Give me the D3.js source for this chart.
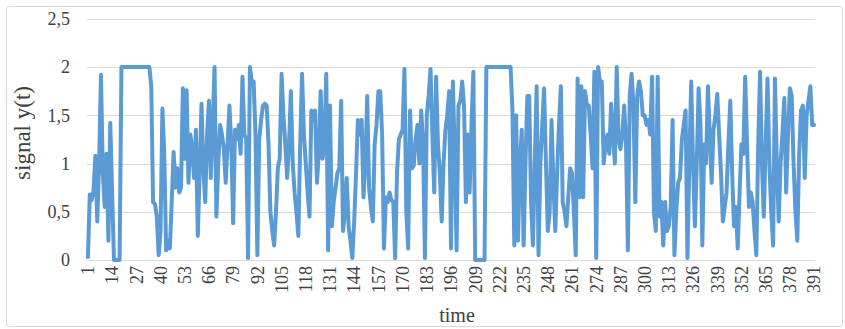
<!DOCTYPE html>
<html>
<head>
<meta charset="utf-8">
<script src="https://cdn.jsdelivr.net/npm/d3@7"></script>
<style>
  html, body { margin: 0; padding: 0; background: #fff; }
  svg { display: block; }
</style>
</head>
<body>
<div id="chart"></div>
<script>
// signal values, one per time step
const SIGNAL = [
  0.03, 0.68, 0.62, 0.72, 1.08, 0.4, 1.0, 1.92, 0.9, 0.55,
  1.1, 0.2, 1.42, 0.7, 0, 0, 0, 0, 2, 2,
  2, 2, 2, 2, 2, 2, 2, 2, 2, 2,
  2, 2, 2, 2, 1.8, 0.6, 0.58, 0.45, 0.05, 0.3,
  1.57, 1.1, 0.1, 0.2, 0.12, 0.6, 1.12, 0.75, 0.95, 0.7,
  0.75, 1.78, 1.05, 1.76, 0.8, 1.3, 1.15, 0.85, 1.35, 0.25,
  0.9, 1.62, 0.95, 0.6, 1.3, 1.65, 0.85, 1.4, 2.0, 0.45,
  1.0, 1.4, 1.3, 1.15, 0.8, 1.2, 1.6, 1.2, 0.38, 1.35,
  1.25, 1.4, 1.1, 1.9, 1.3, 1.25, 0.02, 2.0, 1.85, 1.85,
  1.3, 0.05, 1.25, 1.45, 1.6, 1.62, 1.6, 1.2, 0.5, 0.3,
  0.15, 0.5, 0.95, 1.05, 1.93, 1.5, 1.2, 0.85, 1.2, 1.75,
  1.0, 0.7, 0.5, 0.25, 1.2, 1.93, 1.3, 1.0, 0.7, 0.45,
  1.55, 1.45, 1.55, 0.8, 1.1, 1.75, 1.05, 1.2, 1.93, 0.1,
  1.6, 0.35, 0.6, 0.75, 0.9, 0.95, 1.65, 0.3, 0.5, 0.85,
  0.35, 0.2, 0.02, 0.4, 0.9, 1.45, 1.3, 1.45, 0.65, 1.0,
  1.7, 0.75, 0.55, 0.4, 1.2, 1.4, 1.75, 1.75, 1.3, 0.12,
  0.65, 0.6, 0.7, 0.62, 0.6, 0.02, 0.9, 1.25, 1.3, 1.35,
  1.98, 0.5, 0.12, 1.55, 0.95, 0.98, 1.25, 1.4, 1.0, 1.55,
  1.2, 0.02, 1.5, 1.7, 1.98, 1.3, 0.7, 1.9, 1.2, 0.9,
  0.4, 1.0, 1.35, 1.5, 1.75, 0.12, 1.85, 1.1, 0.1, 1.6,
  1.65, 1.85, 1.6, 0.6, 1.3, 0.7, 1.4, 1.95, 0, 0,
  0, 0, 0, 0, 2, 2, 2, 2, 2, 2,
  2, 2, 2, 2, 2, 2, 2, 2, 1.55, 0.15,
  1.5, 0.2, 1.0, 1.35, 0.15, 1.0, 1.7, 1.7, 0.6, 0.15,
  1.0, 1.8, 0.05, 1.0, 1.4, 1.78, 1.0, 0.3, 0.5, 1.45,
  0.8, 0.3, 0.9, 1.4, 1.8, 0.6, 0.5, 0.35, 0.65, 0.95,
  0.9, 0.5, 0.05, 1.88, 0.65, 1.8, 0.65, 1.75, 1.6, 1.6,
  1.3, 0.95, 1.95, 0.02, 2.0, 1.85, 1.85, 1.0, 1.2, 1.3,
  1.1, 1.62, 1.3, 1.0, 2.0, 1.25, 1.15, 1.3, 1.6, 1.2,
  0.1, 1.7, 1.93, 1.6, 0.6, 1.7, 1.85, 1.75, 1.5, 1.5,
  1.4, 1.45, 1.3, 1.9, 0.5, 0.3, 1.9, 0.45, 0.6, 0.15,
  0.6, 0.3, 0.35, 0.55, 1.45, 0.05, 0.5, 0.8, 0.85, 1.25,
  1.4, 1.55, 0.02, 1.0, 1.85, 1.0, 0.35, 1.0, 1.78, 1.4,
  0.15, 1.2, 1.0, 1.8, 1.3, 0.8, 1.35, 1.5, 1.72, 1.3,
  0.9, 0.4, 0.55, 0.7, 1.2, 1.65, 0.9, 0.35, 0.55, 0.12,
  0.7, 1.2, 1.1, 1.9, 1.2, 0.55, 0.7, 0.6, 0.3, 0.05,
  1.2, 1.95, 1.0, 0.45, 1.2, 1.88, 1.0, 0.5, 0.15, 1.88,
  1.0, 0.4, 1.0, 1.3, 1.68, 0.7, 1.3, 1.78, 1.7, 1.0,
  0.5, 0.2, 1.1, 1.55, 1.6, 0.85, 1.5, 1.65, 1.8, 1.4, 1.4
]

// time categories 1..n
const TIME = SIGNAL.map((_, i) => i + 1)
// category labels shown every 13 steps
const TIME_LABELS = TIME.filter(t => (t - 1) % 13 === 0)
const Y_TICKS = [0, 0.5, 1, 1.5, 2, 2.5]

const width = 845
const height = 329
const margin = { top: 18.75, right: 30, bottom: 69, left: 87 }

const fmt = v => String(v).replace(".", ",")

const svg = d3.select("#chart")
  .append("svg")
  .attr("width", width)
  .attr("height", height)
  .style("font-family", "'Liberation Serif', 'Times New Roman', serif")

// chart area border
svg.append("rect")
  .attr("x", 6.5)
  .attr("y", 6.5)
  .attr("width", 836)
  .attr("height", 320)
  .attr("rx", 3)
  .attr("fill", "#fff")
  .attr("stroke", "#d9d9d9")

const x = d3.scaleBand()
  .domain(TIME)
  .range([margin.left, width - margin.right])
  .padding(0)

const y = d3.scaleLinear()
  .domain([0, 2.5])
  .range([height - margin.bottom, margin.top])

const cx = t => x(t) + x.bandwidth() / 2

// horizontal gridlines
svg.append("g")
  .selectAll("line")
  .data(Y_TICKS)
  .enter()
  .append("line")
  .attr("x1", margin.left)
  .attr("x2", width - margin.right)
  .attr("y1", d => Math.round(y(d)) + 0.5)
  .attr("y2", d => Math.round(y(d)) + 0.5)
  .attr("stroke", "#d9d9d9")
  .attr("stroke-width", 1)

// y tick labels
svg.append("g")
  .selectAll("text")
  .data(Y_TICKS)
  .enter()
  .append("text")
  .attr("x", 70)
  .attr("y", d => y(d))
  .attr("dy", "0.35em")
  .attr("text-anchor", "end")
  .attr("font-size", "18px")
  .attr("fill", "#404040")
  .text(fmt)

// x tick labels, rotated
svg.append("g")
  .selectAll("text")
  .data(TIME_LABELS)
  .enter()
  .append("text")
  .attr("transform", d => `translate(${cx(d)},${height - margin.bottom + 6}) rotate(-90)`)
  .attr("dy", "0.35em")
  .attr("text-anchor", "end")
  .attr("font-size", "18px")
  .attr("fill", "#404040")
  .text(d => d)

// axis titles
svg.append("text")
  .attr("transform", "translate(30,133) rotate(-90)")
  .attr("text-anchor", "middle")
  .attr("font-size", "23px")
  .attr("fill", "#404040")
  .text("signal y(t)")

svg.append("text")
  .attr("x", 457)
  .attr("y", 322)
  .attr("text-anchor", "middle")
  .attr("font-size", "20px")
  .attr("fill", "#404040")
  .text("time")

// signal line
const line = d3.line()
  .x((d, i) => cx(TIME[i]))
  .y(d => y(d))

svg.append("path")
  .datum(SIGNAL)
  .attr("d", line)
  .attr("fill", "none")
  .attr("stroke", "#5b9bd5")
  .attr("stroke-width", 4)
  .attr("stroke-linejoin", "round")
  .attr("stroke-linecap", "round")
</script>
</body>
</html>
